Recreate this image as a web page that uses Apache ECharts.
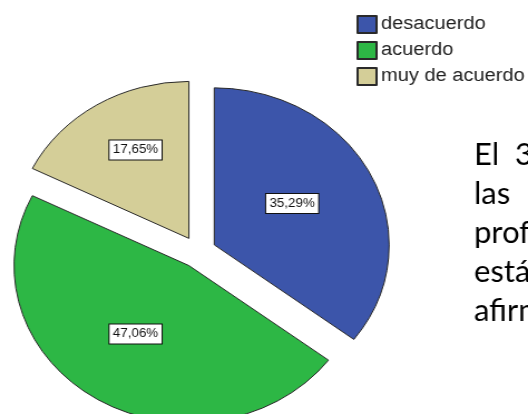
<!DOCTYPE html>
<html>
<head>
<meta charset="utf-8">
<script src="https://cdn.jsdelivr.net/npm/echarts@6/dist/echarts.min.js"></script>
<style>
html,body{margin:0;padding:0;background:#fff;overflow:hidden;}
#wrap{width:528px;height:414px;overflow:hidden;position:relative;}
/* the source chart picture was stretched horizontally inside its document */
#chart{width:474px;height:414px;transform:scaleX(1.114);transform-origin:0 0;}
</style>
</head>
<body>
<div id="wrap"><div id="chart"></div></div>
<script>
const categories = ['desacuerdo', 'acuerdo', 'muy de acuerdo'];
const values = [35.29, 47.06, 17.65];
const paragraphLines = ['El  3', 'las', 'prof', 'está', 'afirm'];

const STRETCH = 1.114;
const colors = ['#3c55aa', '#2db745', '#d4ce98'];
const labelNudge = [[-3, -5], [-5, -1], [-5, -19]];

const chart = echarts.init(document.getElementById('chart'), null, {renderer: 'canvas'});
const fmt = v => v.toFixed(2).replace('.', ',') + '%';

const option = {
  animation: false,
  color: colors,
  legend: {
    data: categories,
    orient: 'vertical',
    left: 320,
    top: 15,
    padding: 0,
    itemWidth: 17,
    itemHeight: 17,
    itemGap: 7,
    icon: 'rect',
    selectedMode: false,
    textStyle: {fontFamily: 'Liberation Sans, Arial', fontSize: 18, color: '#222', padding: [0, 0, 0, -1]}
  },
  graphic: paragraphLines.map((t, i) => ({
    type: 'text',
    x: 474 / STRETCH,
    y: 139 + i * 39,
    scaleX: 1 / STRETCH,
    silent: true,
    style: {text: t, fontFamily: 'Lato', fontSize: 31, fill: '#000', verticalAlign: 'top'}
  })),
  series: [{
    type: 'pie',
    center: [178, 252],
    radius: 157,
    startAngle: 90,
    clockwise: true,
    selectedMode: 'multiple',
    selectedOffset: 16,
    avoidLabelOverlap: false,
    itemStyle: {borderColor: '#2a2a2a', borderWidth: 1},
    select: {itemStyle: {borderColor: '#2a2a2a', borderWidth: 1}},
    emphasis: {disabled: true},
    label: {
      show: true,
      position: 'inside',
      formatter: p => fmt(p.value),
      fontFamily: 'Liberation Sans, Arial',
      fontSize: 12,
      color: '#111',
      backgroundColor: '#fff',
      borderColor: '#111',
      borderWidth: 1,
      padding: [4, 3, 3, 3]
    },
    labelLayout: p => ({dx: labelNudge[p.dataIndex][0], dy: labelNudge[p.dataIndex][1]}),
    labelLine: {show: false},
    data: categories.map((c, i) => ({name: c, value: values[i], selected: true}))
  }]
};
chart.setOption(option);
</script>
</body>
</html>
